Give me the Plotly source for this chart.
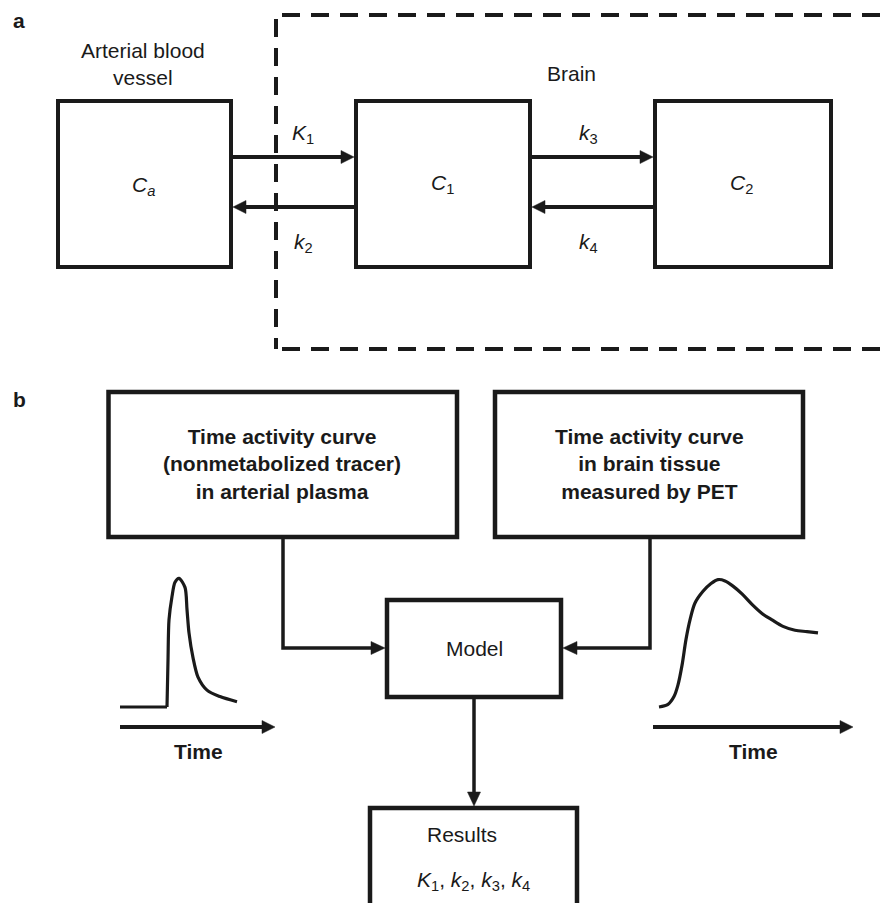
import plotly.graph_objects as go

W, H = 887, 903
INK = "#1a1a1a"
FONT = "Liberation Sans, Arial, Helvetica, sans-serif"
FS = 21

# ---------------- text content ----------------
panel_tags = ["<b>a</b>", "<b>b</b>"]
region_labels = ["Arterial blood<br>vessel", "Brain"]
compartment_labels = ["<i>C<sub>a</sub></i>", "<i>C</i><sub>1</sub>", "<i>C</i><sub>2</sub>"]
rate_labels = ["<i>K</i><sub>1</sub>", "<i>k</i><sub>2</sub>", "<i>k</i><sub>3</sub>", "<i>k</i><sub>4</sub>"]
input_labels = [
    "<b>Time activity curve<br>(nonmetabolized tracer)<br>in arterial plasma</b>",
    "<b>Time activity curve<br>in brain tissue<br>measured by PET</b>",
]
model_label = "Model"
result_labels = [
    "Results",
    "<i>K</i><sub>1</sub>, <i>k</i><sub>2</sub>, <i>k</i><sub>3</sub>, <i>k</i><sub>4</sub>",
]
time_label = "<b>Time</b>"

# ---------------- curves (time, normalised activity) ----------------
plasma_baseline_time = [0.0, 4.7]
plasma_baseline_activity = [0.0, 0.0]
plasma_time = [4.7, 4.8, 4.9, 5.2, 5.5, 5.9, 6.5, 6.7, 6.9, 7.3, 7.8, 8.7, 10.0, 11.7]
plasma_activity = [0.0, 0.36, 0.67, 0.85, 0.96, 0.99, 0.92, 0.75, 0.57, 0.38, 0.23, 0.13, 0.08, 0.04]

tissue_time = [0.9, 1.8, 2.4, 2.8, 3.2, 3.6, 4.0, 4.5, 5.3, 6.1, 6.8, 7.5, 8.3, 9.2,
               10.2, 11.2, 12.2, 13.3, 14.5, 15.7, 16.8]
tissue_activity = [0.0, 0.02, 0.08, 0.17, 0.32, 0.52, 0.67, 0.80, 0.89, 0.95, 0.98, 0.97,
                   0.93, 0.87, 0.79, 0.72, 0.67, 0.62, 0.59, 0.58, 0.57]

# ---------------- layout geometry (page pixels, y downwards) ----------------
comp_boxes = [(58, 101, 231, 267), (356, 101, 530, 267), (655, 101, 831, 267)]
comp_label_pos = [(143, 186), (442, 184), (741, 184)]
rate_arrows = [((233, 157), (354, 157)), ((354, 207), (233, 207)),
               ((532, 157), (653, 157)), ((653, 207), (532, 207))]
rate_label_pos = [(303, 134), (303, 243), (588, 134), (588, 243)]
region_label_pos = [(143, 64), (571, 73)]
tag_pos = [(19, 20), (19, 399)]

brain_x, brain_top, brain_bottom = 276, 15, 349

input_boxes = [(108.5, 392, 457, 537), (495, 392, 803, 537)]
input_label_pos = [(282, 464), (649, 464)]
model_box = (387, 600, 561, 697)
result_box = (370, 808, 577, 960)
result_label_pos = [(462, 834), (473, 881)]
flow_paths = [[(283, 539), (283, 648), (385, 648)],
              [(650, 539), (650, 648), (563, 648)],
              [(474, 699), (474, 806)]]
time_arrows = [((120, 727), (275, 727)), ((653, 727), (853, 727))]
time_label_pos = [(198, 751), (753, 751)]

# inset frames for the two curves: pixel origin of t=0, pixels per time unit
plasma_origin_px, tissue_origin_px, px_per_t = 120, 650, 10.0
curve_zero_px, px_per_unit = 707, 130.0
pad = 15  # room around each inset so the line is not clipped at its edges

fig = go.Figure()
shapes = []
annotations = []


def rect(box, width=4):
    x0, y0, x1, y1 = box
    shapes.append(dict(type="rect", xref="x", yref="y", x0=x0, y0=y0, x1=x1, y1=y1,
                       line=dict(color=INK, width=width), fillcolor="rgba(0,0,0,0)"))


def head(tip, prev, length=13, half=6.5):
    tx, ty = tip
    px, py = prev
    dx, dy = tx - px, ty - py
    n = (dx * dx + dy * dy) ** 0.5
    ux, uy = dx / n, dy / n
    bx, by = tx - ux * length, ty - uy * length
    nx, ny = -uy * half, ux * half
    shapes.append(dict(type="path", xref="x", yref="y",
                       path=f"M{tx},{ty} L{bx + nx},{by + ny} L{bx - nx},{by - ny} Z",
                       fillcolor=INK, line=dict(color=INK, width=0.5)))
    return bx + ux * 1.5, by + uy * 1.5


def arrow(points, width=4, length=13, half=6.5):
    pts = list(points)
    end = head(pts[-1], pts[-2], length, half)
    pts[-1] = end
    path = "M" + " L".join(f"{x},{y}" for x, y in pts)
    shapes.append(dict(type="path", xref="x", yref="y", path=path,
                       line=dict(color=INK, width=width), fillcolor="rgba(0,0,0,0)"))


def label(text, pos, size=FS):
    annotations.append(dict(text=text, x=pos[0], y=pos[1], xref="x", yref="y",
                            showarrow=False, xanchor="center", yanchor="middle",
                            font=dict(family=FONT, size=size, color=INK)))


# panel a
for box in comp_boxes:
    rect(box)
for arr in rate_arrows:
    arrow(arr, width=4)
for t, p in zip(compartment_labels, comp_label_pos):
    label(t, p)
for t, p in zip(rate_labels, rate_label_pos):
    label(t, p)
for t, p in zip(region_labels, region_label_pos):
    label(t, p)
for t, p in zip(panel_tags, tag_pos):
    label(t, p)

dash = "18px,11px"
shapes.append(dict(type="line", xref="x", yref="y", x0=brain_x, x1=brain_x,
                   y0=brain_top + 4, y1=brain_bottom, line=dict(color=INK, width=4, dash=dash)))
for yy in (brain_top, brain_bottom):
    shapes.append(dict(type="line", xref="x", yref="y", x0=brain_x + 6, x1=W + 20,
                       y0=yy, y1=yy, line=dict(color=INK, width=4, dash=dash)))

# panel b
for box in input_boxes:
    rect(box, width=4.5)
rect(model_box, width=4.5)
rect(result_box, width=4.5)
for t, p in zip(input_labels, input_label_pos):
    label(t, p)
label(model_label, ((model_box[0] + model_box[2]) / 2, (model_box[1] + model_box[3]) / 2))
for t, p in zip(result_labels, result_label_pos):
    label(t, p)
for path in flow_paths:
    arrow(path, width=3.5, length=14, half=6.5)
for arr in time_arrows:
    arrow(arr, width=3.8, length=13, half=6.5)
for p in time_label_pos:
    label(time_label, p)

# curves drawn on their own small axes
fig.add_trace(go.Scatter(x=plasma_baseline_time, y=plasma_baseline_activity, mode="lines",
                         line=dict(color=INK, width=3.2), xaxis="x2", yaxis="y2",
                         hoverinfo="skip"))
fig.add_trace(go.Scatter(x=plasma_time, y=plasma_activity, mode="lines",
                         line=dict(color=INK, width=3.2, shape="spline", smoothing=0.8),
                         xaxis="x2", yaxis="y2", hoverinfo="skip"))
fig.add_trace(go.Scatter(x=tissue_time, y=tissue_activity, mode="lines",
                         line=dict(color=INK, width=3.2, shape="spline", smoothing=0.9),
                         xaxis="x3", yaxis="y3", hoverinfo="skip"))


def inset_x(origin_px, width_px):
    lo, hi = origin_px - pad, origin_px + width_px + pad
    return dict(domain=[lo / W, hi / W],
                range=[(lo - origin_px) / px_per_t, (hi - origin_px) / px_per_t])


def inset_y():
    top_px, bottom_px = curve_zero_px - px_per_unit - pad, curve_zero_px + pad
    return dict(domain=[1 - bottom_px / H, 1 - top_px / H],
                range=[(curve_zero_px - bottom_px) / px_per_unit,
                       (curve_zero_px - top_px) / px_per_unit])


hidden = dict(visible=False, showgrid=False, zeroline=False, fixedrange=True)

fig.update_layout(
    width=W, height=H,
    margin=dict(l=0, r=0, t=0, b=0),
    paper_bgcolor="white", plot_bgcolor="rgba(0,0,0,0)",
    showlegend=False,
    xaxis=dict(range=[0, W], domain=[0, 1], **hidden),
    yaxis=dict(range=[H, 0], domain=[0, 1], **hidden),
    xaxis2=dict(anchor="y2", **inset_x(plasma_origin_px, 120), **hidden),
    yaxis2=dict(anchor="x2", **inset_y(), **hidden),
    xaxis3=dict(anchor="y3", **inset_x(tissue_origin_px, 180), **hidden),
    yaxis3=dict(anchor="x3", **inset_y(), **hidden),
    shapes=shapes,
    annotations=annotations,
)

fig.write_html("out.html", config={"displayModeBar": False})
